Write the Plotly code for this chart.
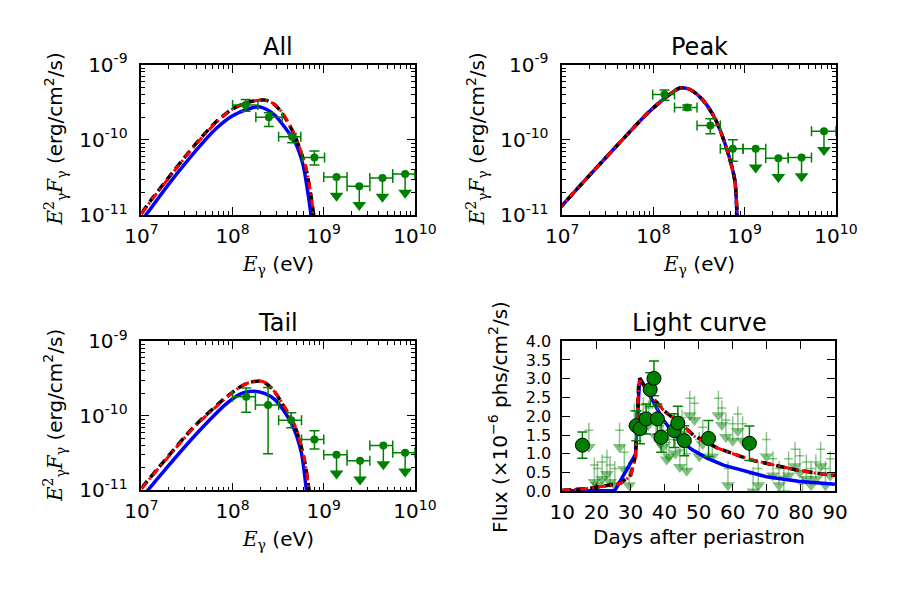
import numpy as np
import plotly.graph_objects as go

# ---------------- data ----------------
# SED "All"
all_E = [1.39e8, 2.5e8, 4.5e8, 7.9e8]
all_E_lo = [1.0e8, 1.8e8, 3.2e8, 5.8e8]
all_E_hi = [1.9e8, 3.5e8, 5.6e8, 1.02e9]
all_F = [2.9e-10, 2.0e-10, 1.1e-10, 5.8e-11]
all_F_lo = [2.4e-10, 1.5e-10, 0.91e-10, 4.6e-11]
all_F_hi = [3.45e-10, 2.3e-10, 1.2e-10, 7.1e-11]
all_ul_E = [1.38e9, 2.45e9, 4.4e9, 7.8e9]
all_ul_E_lo = [1.0e9, 1.8e9, 3.2e9, 5.7e9]
all_ul_E_hi = [1.8e9, 3.2e9, 5.7e9, 1.0e10]
all_ul_F = [3.2e-11, 2.4e-11, 3.1e-11, 3.5e-11]

# SED "Peak"
peak_E = [1.32e8, 2.34e8, 4.2e8, 7.4e8]
peak_E_lo = [0.98e8, 1.7e8, 3.0e8, 5.4e8]
peak_E_hi = [1.7e8, 3.0e8, 5.4e8, 9.6e8]
peak_F = [4.0e-10, 2.7e-10, 1.55e-10, 7.6e-11]
peak_F_lo = [3.35e-10, 2.5e-10, 1.2e-10, 5.2e-11]
peak_F_hi = [4.6e-10, 2.9e-10, 1.9e-10, 1.0e-10]
peak_ul_E = [1.32e9, 2.34e9, 4.2e9, 7.4e9]
peak_ul_E_lo = [0.96e9, 1.7e9, 3.0e9, 5.4e9]
peak_ul_E_hi = [1.7e9, 3.0e9, 5.4e9, 1.0e10]
peak_ul_F = [7.6e-11, 5.7e-11, 5.8e-11, 1.3e-10]

# SED "Tail"
tail_E = [1.41e8, 2.45e8, 4.4e8, 7.9e8]
tail_E_lo = [1.0e8, 1.78e8, 3.2e8, 5.7e8]
tail_E_hi = [1.78e8, 3.2e8, 5.7e8, 1.0e9]
tail_F = [1.8e-10, 1.4e-10, 8.7e-11, 4.8e-11]
tail_F_lo = [1.12e-10, 3.1e-11, 6.9e-11, 3.6e-11]
tail_F_hi = [2.35e-10, 2.4e-10, 1.1e-10, 6.3e-11]
tail_ul_E = [1.38e9, 2.5e9, 4.5e9, 7.8e9]
tail_ul_E_lo = [1.0e9, 1.8e9, 3.2e9, 5.7e9]
tail_ul_E_hi = [1.8e9, 3.2e9, 5.7e9, 1.0e10]
tail_ul_F = [3.0e-11, 2.5e-11, 4.0e-11, 3.2e-11]

# model curves (log10 E, log10 F)
all_blue_logE = [7.0, 7.05, 7.16, 7.30, 7.47, 7.65, 7.82, 8.0, 8.17, 8.29, 8.38, 8.47, 8.57, 8.68, 8.77, 8.82, 8.86, 8.9]
all_blue_logF = [-11.08, -11.0, -10.82, -10.59, -10.33, -10.07, -9.85, -9.68, -9.59, -9.56, -9.60, -9.68, -9.83, -10.02, -10.32, -10.66, -11.0, -11.5]
all_black_logE = [7.0, 7.12, 7.30, 7.47, 7.65, 7.82, 8.0, 8.17, 8.35, 8.45, 8.54, 8.68, 8.80, 8.86, 8.90, 8.93]
all_black_logF = [-10.98, -10.78, -10.50, -10.24, -9.98, -9.76, -9.59, -9.50, -9.47, -9.52, -9.64, -9.94, -10.36, -10.75, -11.1, -11.5]
all_red_logF = [-10.99, -10.79, -10.51, -10.25, -9.99, -9.77, -9.59, -9.50, -9.47, -9.52, -9.63, -9.93, -10.35, -10.74, -11.1, -11.5]

peak_blue_logE = [6.95, 7.24, 7.59, 7.94, 8.12, 8.29, 8.40, 8.54, 8.68, 8.80, 8.89, 8.92, 8.95]
peak_blue_logF = [-10.94, -10.55, -10.09, -9.64, -9.45, -9.31, -9.33, -9.47, -9.73, -10.11, -10.53, -11.1, -11.6]
peak_black_logF = [-10.94, -10.55, -10.09, -9.64, -9.45, -9.31, -9.33, -9.47, -9.73, -10.11, -10.53, -11.1, -11.6]
peak_red_logF = [-10.94, -10.55, -10.09, -9.64, -9.45, -9.31, -9.33, -9.47, -9.73, -10.11, -10.53, -11.1, -11.6]

tail_blue_logE = [7.0, 7.07, 7.24, 7.59, 7.94, 8.10, 8.22, 8.35, 8.47, 8.64, 8.75, 8.81, 8.85]
tail_blue_logF = [-11.12, -11.0, -10.75, -10.26, -9.83, -9.70, -9.67, -9.70, -9.79, -10.09, -10.47, -11.0, -11.4]
tail_black_logE = [7.0, 7.24, 7.59, 7.94, 8.10, 8.20, 8.33, 8.45, 8.54, 8.68, 8.78, 8.84, 8.88]
tail_black_logF = [-10.97, -10.62, -10.13, -9.74, -9.60, -9.55, -9.54, -9.66, -9.83, -10.13, -10.55, -11.0, -11.4]
tail_red_logF = [-10.98, -10.63, -10.14, -9.75, -9.60, -9.55, -9.54, -9.66, -9.82, -10.12, -10.54, -11.0, -11.4]

# Light curve
lc_day = [15.9, 31.7, 32.8, 34.6, 35.8, 36.9, 37.9, 39.0, 42.8, 43.9, 45.8, 52.9, 64.9]
lc_flux = [1.23, 1.75, 1.67, 1.93, 2.71, 3.01, 1.93, 1.44, 1.62, 1.82, 1.35, 1.41, 1.28]
lc_err = [0.35, 0.40, 0.40, 0.40, 0.45, 0.46, 0.40, 0.40, 0.45, 0.45, 0.40, 0.48, 0.46]

ul_day = [17.8, 19.4, 20.3, 21.7, 23.1, 24.0, 25.4, 26.8, 28.2, 29.6, 31.1, 32.5, 33.8, 35.3,
          37.5, 38.6, 39.5, 40.6, 41.3, 43.2, 44.5, 45.1, 46.5, 47.4, 48.8, 50.2, 51.2, 54.0,
          55.8, 56.8, 58.0, 58.6, 60.0, 61.5, 62.9, 66.0, 67.5, 69.9, 71.8, 73.6, 75.0, 76.4,
          78.3, 79.7, 80.5, 81.6, 83.0, 84.4, 85.8, 87.2, 88.6]
ul_val = [1.63, 0.70, 0.61, 0.78, 0.91, 0.70, 0.61, 1.63, 1.04, 0.61, 2.14, 2.14, 2.30, 2.22,
          1.90, 1.75, 1.63, 1.30, 1.38, 1.46, 1.10, 1.97, 1.00, 2.48, 2.35, 1.38, 1.71, 1.38,
          2.48, 2.22, 1.90, 0.61, 1.80, 2.06, 1.80, 0.45, 0.61, 1.38, 0.87, 0.61, 0.40, 0.87,
          1.12, 0.95, 0.20, 0.78, 0.61, 0.78, 1.12, 0.61, 0.87]

blue_day = [10, 25.4, 31.5, 32.5, 32.7, 33.9, 36.7, 39.5, 43.2, 47.9, 52.6, 57.3, 60.5, 69.9, 79.3, 90]
blue_flux = [0.02, 0.02, 0.99, 2.95, 3.02, 2.85, 2.38, 1.92, 1.48, 1.12, 0.88, 0.70, 0.62, 0.39, 0.27, 0.19]
black_day = [10, 17.9, 25.4, 27.3, 30.1, 31.5, 32.4, 32.8, 34.5, 36.7, 39.9, 42.3, 46.0, 48.4, 52.6, 55.4, 59.1, 65.2, 72.2, 78.8, 85.8, 90]
black_flux = [0.03, 0.08, 0.19, 0.23, 0.44, 0.95, 2.85, 3.0, 2.72, 2.48, 2.14, 1.97, 1.71, 1.50, 1.29, 1.16, 1.04, 0.84, 0.70, 0.57, 0.47, 0.42]
red_flux = [0.03, 0.08, 0.18, 0.22, 0.42, 0.92, 2.82, 2.96, 2.72, 2.48, 2.14, 1.97, 1.71, 1.48, 1.29, 1.16, 1.03, 0.85, 0.70, 0.57, 0.46, 0.42]

# ---------------- styling ----------------
W, H = 900, 600
GREEN = "#008000"
FONT = "DejaVu Sans"


def px_x(p):
    return p / W


def px_y(p):
    return 1 - p / H


panels = {
    1: dict(x=(130, 416), y=(53, 210)),
    2: dict(x=(570, 856), y=(53, 210)),
    3: dict(x=(130, 416), y=(342, 498)),
    4: dict(x=(570, 855), y=(342, 499)),
}

fig = go.Figure()


def ax(n, kind):
    return kind if n == 1 else f"{kind}{n}"


def add_sed(n, E, Elo, Ehi, F, Flo, Fhi, uE, uElo, uEhi, uF,
            bE, bF, kE, kF, rF):
    xa, ya = ax(n, "x"), ax(n, "y")
    fig.add_trace(go.Scatter(x=np.power(10.0, bE), y=np.power(10.0, bF), mode="lines",
                             line=dict(color="#0000ff", width=3.5, shape="spline", smoothing=0.8),
                             xaxis=xa, yaxis=ya, showlegend=False))
    fig.add_trace(go.Scatter(x=np.power(10.0, kE), y=np.power(10.0, kF), mode="lines",
                             line=dict(color="black", width=3.5, dash="9px,5px", shape="spline", smoothing=0.8),
                             xaxis=xa, yaxis=ya, showlegend=False))
    fig.add_trace(go.Scatter(x=np.power(10.0, kE), y=np.power(10.0, rF), mode="lines",
                             line=dict(color="#ff0000", width=3, dash="8px,4px,2px,4px", shape="spline", smoothing=0.8),
                             xaxis=xa, yaxis=ya, showlegend=False))
    E_ = np.array(E); F_ = np.array(F)
    fig.add_trace(go.Scatter(
        x=E_, y=F_, mode="markers",
        marker=dict(color=GREEN, size=8, line=dict(width=0)),
        error_x=dict(type="data", symmetric=False, array=np.array(Ehi) - E_,
                     arrayminus=E_ - np.array(Elo), color=GREEN, thickness=1.5, width=5),
        error_y=dict(type="data", symmetric=False, array=np.array(Fhi) - F_,
                     arrayminus=F_ - np.array(Flo), color=GREEN, thickness=1.5, width=5),
        xaxis=xa, yaxis=ya, showlegend=False))
    uE_ = np.array(uE); uF_ = np.array(uF)
    tip = uF_ * 10 ** (-0.25)
    fig.add_trace(go.Scatter(
        x=uE_, y=uF_, mode="markers",
        marker=dict(color=GREEN, size=8, line=dict(width=0)),
        error_x=dict(type="data", symmetric=False, array=np.array(uEhi) - uE_,
                     arrayminus=uE_ - np.array(uElo), color=GREEN, thickness=1.5, width=5),
        error_y=dict(type="data", symmetric=False, array=np.zeros(len(uF_)),
                     arrayminus=uF_ - tip, color=GREEN, thickness=1.5, width=0),
        xaxis=xa, yaxis=ya, showlegend=False))
    fig.add_trace(go.Scatter(
        x=uE_, y=tip, mode="markers",
        marker=dict(color=GREEN, size=12, symbol="triangle-down", line=dict(width=0)),
        xaxis=xa, yaxis=ya, showlegend=False))


add_sed(1, all_E, all_E_lo, all_E_hi, all_F, all_F_lo, all_F_hi,
        all_ul_E, all_ul_E_lo, all_ul_E_hi, all_ul_F,
        all_blue_logE, all_blue_logF, all_black_logE, all_black_logF, all_red_logF)
add_sed(2, peak_E, peak_E_lo, peak_E_hi, peak_F, peak_F_lo, peak_F_hi,
        peak_ul_E, peak_ul_E_lo, peak_ul_E_hi, peak_ul_F,
        peak_blue_logE, peak_blue_logF, peak_blue_logE, peak_black_logF, peak_red_logF)
add_sed(3, tail_E, tail_E_lo, tail_E_hi, tail_F, tail_F_lo, tail_F_hi,
        tail_ul_E, tail_ul_E_lo, tail_ul_E_hi, tail_ul_F,
        tail_blue_logE, tail_blue_logF, tail_black_logE, tail_black_logF, tail_red_logF)

# Light curve
ulv = np.array(ul_val)
fig.add_trace(go.Scatter(
    x=ul_day, y=ulv, mode="markers", marker=dict(size=1, color="rgba(0,0,0,0)"),
    error_x=dict(type="constant", value=1.3, color="rgba(0,128,0,0.45)", thickness=1.5, width=0),
    error_y=dict(type="data", symmetric=False, array=np.full(len(ulv), 0.2), arrayminus=np.full(len(ulv), 0.45),
                 color="rgba(0,128,0,0.45)", thickness=1.5, width=0),
    xaxis="x4", yaxis="y4", showlegend=False))
fig.add_trace(go.Scatter(
    x=ul_day, y=ulv - 0.45, mode="markers",
    marker=dict(size=12, symbol="triangle-down", color="rgba(0,128,0,0.5)", line=dict(width=0)),
    xaxis="x4", yaxis="y4", showlegend=False))
fig.add_trace(go.Scatter(x=blue_day, y=blue_flux, mode="lines",
                         line=dict(color="#0000ff", width=3.5),
                         xaxis="x4", yaxis="y4", showlegend=False))
fig.add_trace(go.Scatter(x=black_day, y=black_flux, mode="lines",
                         line=dict(color="black", width=3.5, dash="9px,5px"),
                         xaxis="x4", yaxis="y4", showlegend=False))
fig.add_trace(go.Scatter(x=black_day, y=red_flux, mode="lines",
                         line=dict(color="#ff0000", width=3, dash="8px,4px,2px,4px"),
                         xaxis="x4", yaxis="y4", showlegend=False))
fig.add_trace(go.Scatter(
    x=lc_day, y=lc_flux, mode="markers",
    marker=dict(size=14, color=GREEN, line=dict(color="black", width=1)),
    error_y=dict(type="data", array=lc_err, color=GREEN, thickness=1.5, width=5),
    xaxis="x4", yaxis="y4", showlegend=False))

# ---------------- axes ----------------
tickfont = dict(family=FONT, size=20, color="black")
common = dict(showline=True, linecolor="black", linewidth=1.6, mirror="allticks",
              ticks="inside", ticklen=8, tickwidth=1.2, tickcolor="black",
              showgrid=False, zeroline=False, tickfont=tickfont)

x_major = [1e7, 1e8, 1e9, 1e10]
x_text = ["10<sup>7</sup>", "10<sup>8</sup>", "10<sup>9</sup>", "10<sup>10</sup>"]
x_minor = [m * 10 ** e for e in range(7, 10) for m in range(2, 10)]
y_major = [1e-11, 1e-10, 1e-9]
y_text = ["10<sup>-11</sup>", "10<sup>-10</sup>", "10<sup>-9</sup>"]
y_minor = [m * 10.0 ** e for e in range(-11, -9) for m in range(2, 10)]

layout = dict(width=W, height=H, margin=dict(l=0, r=0, t=0, b=0),
              paper_bgcolor="white", plot_bgcolor="white", showlegend=False)

for n in (1, 2, 3):
    p = panels[n]
    xk = "xaxis" if n == 1 else f"xaxis{n}"
    yk = "yaxis" if n == 1 else f"yaxis{n}"
    layout[xk] = dict(common, type="log", range=[7, 10], tickvals=x_major, ticktext=x_text,
                      domain=[px_x(p["x"][0]), px_x(p["x"][1])], anchor=ax(n, "y"),
                      ticklabelstandoff=2,
                      minor=dict(tickvals=x_minor, ticks="inside", ticklen=4, tickwidth=1, tickcolor="black"))
    layout[yk] = dict(common, type="log", range=[-11, -9], tickvals=y_major, ticktext=y_text,
                      domain=[px_y(p["y"][1]), px_y(p["y"][0])], anchor=ax(n, "x"),
                      ticklabelstandoff=8,
                      minor=dict(tickvals=y_minor, ticks="inside", ticklen=4, tickwidth=1, tickcolor="black"))

p = panels[4]
layout["xaxis4"] = dict(common, range=[10, 90], tickvals=[10, 20, 30, 40, 50, 60, 70, 80, 90],
                        domain=[px_x(p["x"][0]), px_x(p["x"][1])], anchor="y4", ticklabelstandoff=2)
layout["yaxis4"] = dict(common, range=[0, 4], tickvals=[0, 0.5, 1, 1.5, 2, 2.5, 3, 3.5, 4],
                        ticktext=["0.0", "0.5", "1.0", "1.5", "2.0", "2.5", "3.0", "3.5", "4.0"],
                        tickfont=dict(family=FONT, size=16, color="black"),
                        domain=[px_y(p["y"][1]), px_y(p["y"][0])], anchor="x4", ticklabelstandoff=6)

fig.update_layout(**layout)

# ---------------- text ----------------
def ann(text, x, y, size=20, angle=0):
    fig.add_annotation(text=text, x=px_x(x), y=px_y(y), xref="paper", yref="paper",
                       showarrow=False, textangle=angle, xanchor="center", yanchor="middle",
                       font=dict(family=FONT, size=size, color="black"))

titles = ["All", "Peak", "Tail", "Light curve"]
ann(titles[0], 273, 35, 24)
ann(titles[1], 713, 35, 24)
ann(titles[2], 273, 323, 24)
ann(titles[3], 713, 323, 24)

E_lab = "<span style='font-family:DejaVu Serif'><i>E</i><sub>γ</sub></span> (eV)"
ann(E_lab, 273, 262)
ann(E_lab, 713, 262)
ann(E_lab, 273, 550)
ann("Days after periastron", 713, 547)

Y_lab = ("<span style='font-family:DejaVu Serif'><i>E</i><sup>2</sup><sub>γ</sub><i>F</i><sub>γ</sub></span>"
         " (erg/cm<sup>2</sup>/s)")
ann(Y_lab, 40, 131, angle=-90)
ann(Y_lab, 481, 131, angle=-90)
ann(Y_lab, 40, 420, angle=-90)
ann("Flux (×10<sup>−6</sup> phs/cm<sup>2</sup>/s)", 503, 421, angle=-90)

fig.write_html("out.html")
